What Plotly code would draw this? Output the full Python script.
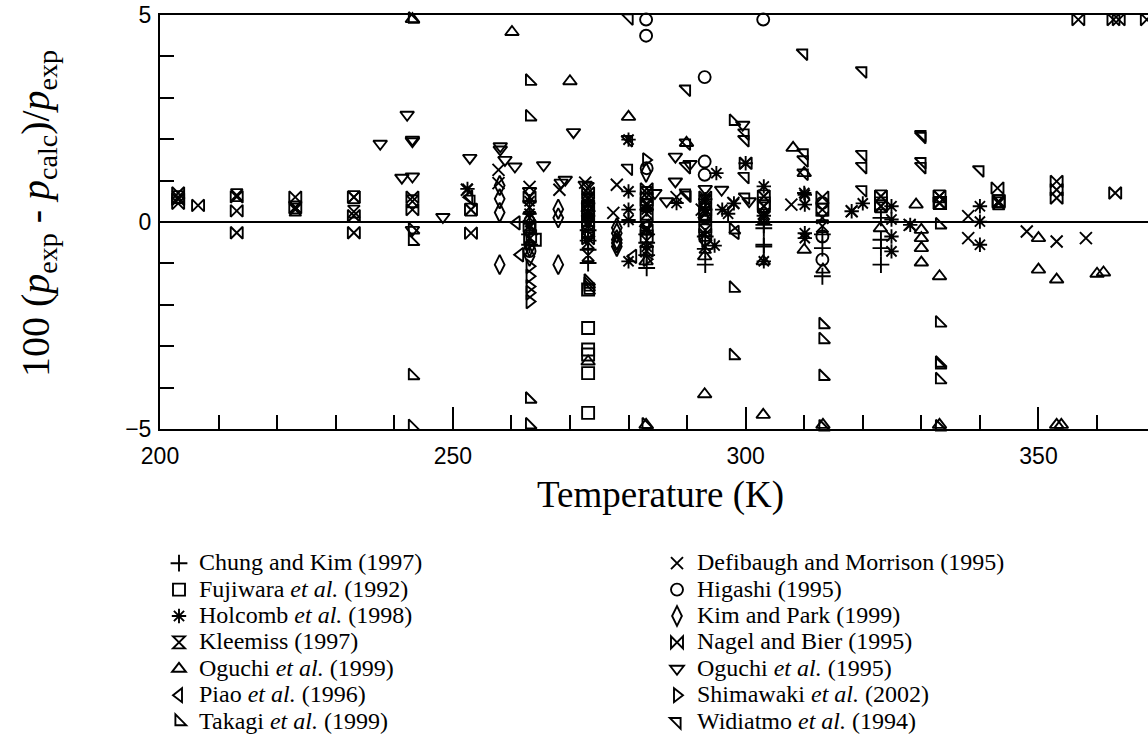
import plotly.graph_objects as go

# ---------------- data (temperature K, 100*(pexp-pcalc)/pexp) ----------------
chung_T = [263.1, 263.1, 273.1, 273.1, 273.1, 273.1, 283.1, 283.1, 283.1, 283.1, 293.1, 293.1, 293.1,
           303.1, 303.1, 303.1, 303.1, 313.1, 313.1, 313.1, 323.1, 323.1, 323.1, 323.1]
chung_d = [-0.3, -0.55, -0.45, -0.67, -0.99, -0.2, -0.5, -0.8, -1.11, -0.3, -0.35, -0.65, -1.03,
           -0.07, -0.59, -0.15, -0.55, -0.63, -1.31, -0.3, -0.43, -0.63, -1.03, 0.1]

fujiwara_T = [263.2, 264.0, 273.1, 273.1, 273.1, 273.1, 273.1, 273.1, 273.1, 273.1, 273.1,
              283.1, 283.1, 283.1, 293.1, 293.1, 303.1, 313.1, 323.1, 333.2, 343.2]
fujiwara_d = [-0.35, -0.43, -1.63, -2.56, -3.08, -3.2, -3.65, -4.61, 0.35, 0.05, -0.25,
              0.55, 0.15, -0.35, 0.3, -0.1, 0.45, 0.3, 0.45, 0.46, 0.5]

holcomb_T = [252.5, 263.1, 263.1, 273.1, 273.1, 280.0, 280.0, 280.0, 280.0, 280.0, 283.1, 283.1,
             288.2, 293.1, 294.7, 293.1, 295.0, 296.0, 297.0, 298.0, 300.0, 303.1, 303.1, 303.1,
             310.0, 310.1, 310.1, 310.1, 310.1, 318.1, 320.0, 324.9, 324.9, 324.9, 324.9, 328.1,
             340.0, 340.0, 340.0]
holcomb_d = [0.8, 0.5, 0.2, 0.45, 0.15, 1.99, 0.74, -0.95, 0.3, 0.05, 0.3, -0.6,
             0.46, 0.3, -0.57, 0.55, 1.18, 0.3, 0.2, 0.45, 1.42, 0.86, -0.95, 0.15,
             0.7, 0.66, 0.42, -0.27, -0.39, 0.26, 0.45, 0.38, 0.06, -0.35, -0.71, -0.07,
             0.38, 0.01, -0.55]

kleemiss_T = [203.1, 213.1, 223.1, 223.1, 233.1, 233.1, 243.1, 253.1, 263.1, 263.1, 263.1,
              273.1, 273.1, 273.1, 273.1, 273.1, 273.1, 283.1, 283.1, 283.1, 283.1, 283.1,
              293.1, 293.1, 293.1, 293.1, 303.1, 303.1, 303.1, 313.1, 313.1, 323.1, 323.1,
              333.1, 333.1, 343.2, 343.2]
kleemiss_d = [0.6, 0.65, 0.35, 0.3, 0.25, 0.6, 0.5, 0.3, 0.35, 0.1, -0.4,
              0.25, -0.1, 0.8, 0.55, -0.5, -0.8, 0.2, -0.15, 0.7, 0.4, -0.45,
              0.2, 0.5, -0.2, -0.6, 0.62, 0.38, 0.1, 0.3, -0.1, 0.62, 0.38,
              0.46, 0.62, 0.5, 0.45]

oguchi99_T = [243.1, 260.1, 270.0, 280.0, 289.9, 293.0, 293.0, 303.0, 303.0, 308.1, 310.0, 310.0,
              313.2, 313.2, 323.0, 329.1, 330.0, 330.0, 330.0, 330.0, 333.1, 333.1, 350.0, 350.0,
              353.1, 353.1, 353.9, 360.0, 361.1, 283.0, 273.1, 283.0]
oguchi99_d = [4.9, 4.59, 3.4, 2.54, 1.91, -4.16, -0.83, -4.66, -0.95, 1.79, 1.18, -0.67,
              -4.9, -1.15, -0.15, 0.42, -0.19, -0.39, -0.63, -0.98, -1.31, -4.9, -1.15, -0.39,
              -1.39, -4.9, -4.9, -1.25, -1.22, -4.9, -3.37, -0.95]

piao_T = [252.8, 260.9, 261.5, 280.8, 283.0, 293.0, 298.3, 263.5]
piao_d = [0.6, -0.02, -0.79, -0.83, -0.1, 0.1, -0.25, -0.1]

takagi_T = [243.1, 243.1, 243.1, 243.1, 243.1, 263.1, 263.1, 263.1, 263.1, 273.1, 273.1, 273.1,
            273.1, 283.0, 297.9, 297.9, 297.9, 297.9, 313.2, 313.2, 313.2, 313.2, 333.1, 333.1,
            333.1, 333.1, 333.1, 333.1]
takagi_d = [4.9, -0.19, -0.47, -3.71, -4.94, 3.4, 2.54, -4.28, -4.9, -1.43, -1.5, -1.57,
            -1.65, -4.9, 2.43, -0.19, -1.6, -3.23, -2.48, -2.84, -3.73, -4.95, -0.07, -2.44,
            -3.41, -3.45, -3.81, -4.95]

defibaugh_T = [252.4, 257.8, 257.8, 263.1, 268.2, 272.6, 277.4, 278.0, 283.1, 288.2, 292.5, 297.9,
               303.1, 307.8, 318.1, 328.0, 338.0, 338.0, 348.0, 353.1, 358.1, 273.1, 313.1]
defibaugh_d = [0.78, 1.26, 0.94, 0.85, 0.78, 0.95, 0.22, 0.9, 0.6, 0.6, 0.3, 0.46,
               0.2, 0.42, 0.26, -0.07, 0.14, -0.39, -0.23, -0.47, -0.39, 0.6, 0.1]

higashi_T = [283.0, 283.0, 293.0, 293.0, 293.0, 303.0, 313.1, 313.1, 313.1, 263.1, 273.1, 283.1, 293.1]
higashi_d = [4.89, 4.5, 3.5, 1.46, 1.14, 4.89, 0.46, -0.35, -0.91, -0.7, -0.05, 1.3, 0.1]

kim_T = [258.0, 258.0, 258.0, 258.0, 268.0, 268.0, 268.0, 263.1, 263.1, 263.1,
         278.0, 278.0, 278.0, 278.0, 278.0, 283.0, 273.1]
kim_d = [0.88, 0.56, 0.23, -1.03, 0.31, 0.1, -1.03, 0.05, -0.83, -0.6,
         -0.59, -0.43, -0.27, -0.14, -0.51, 1.2, 0.1]

nagel_T = [203.1, 203.1, 203.1, 206.5, 213.1, 213.1, 213.1, 223.1, 223.1, 233.1, 233.1, 233.1,
           243.1, 243.1, 253.1, 253.1, 263.1, 263.1, 273.1, 273.1, 273.1, 273.1, 283.1, 283.1,
           283.1, 283.1, 293.1, 293.1, 293.1, 300.0, 303.1, 303.1, 313.1, 323.1, 323.1, 333.1,
           333.1, 343.0, 343.2, 353.1, 353.1, 353.1, 363.1, 356.8, 362.8, 363.7, 368.5]
nagel_d = [0.7, 0.55, 0.45, 0.4, 0.61, 0.27, -0.26, 0.6, 0.35, 0.6, 0.15, -0.26,
           0.6, 0.3, 0.3, -0.27, 0.6, -0.1, 0.7, 0.4, 0.0, -0.4, 0.8, 0.45,
           -0.2, -0.7, 0.6, 0.2, -0.3, 1.42, 0.62, 0.38, 0.6, 0.62, 0.38, 0.62,
           0.46, 0.82, 0.5, 0.98, 0.78, 0.58, 0.7, 4.89, 4.89, 4.89, 4.89]

oguchi95_T = [237.6, 242.2, 243.1, 243.1, 241.3, 243.1, 243.1, 248.3, 252.9, 258.1, 258.1, 258.9,
              260.6, 265.5, 268.5, 269.2, 270.6, 272.6, 273.1, 263.1, 284.5, 286.5, 288.0, 288.0,
              290.5, 295.9, 300.6, 293.1, 299.5]
oguchi95_d = [1.89, 2.59, 1.99, 1.95, 1.07, 1.1, -0.19, 0.12, 1.55, 1.83, 1.75, 1.5,
              1.34, 1.37, 0.95, 1.02, 2.17, 0.9, 0.2, 0.75, 0.7, 0.5, 1.58, 0.98,
              1.4, 0.78, 0.5, 0.8, 2.35]

shimawaki_T = [263.1, 263.1, 263.1, 263.1, 263.1, 263.1, 283.0, 273.1, 283.1, 293.1, 263.1]
shimawaki_d = [-1.07, -1.31, -1.56, -1.71, -1.92, -0.5, 1.5, -0.35, -0.9, -0.45, -0.2]

widiatmo_T = [280.1, 289.9, 280.0, 280.0, 289.9, 289.9, 289.9, 299.9, 299.9, 299.9, 309.9, 310.0,
              310.0, 310.0, 320.0, 320.0, 320.0, 320.0, 330.1, 330.1, 330.1, 330.1, 340.0, 253.1,
              300.0, 290.0]
widiatmo_d = [4.93, 3.21, 1.99, 1.3, 1.34, 0.7, 1.91, 2.15, 1.99, 1.1, 4.08, 1.67,
              1.5, 1.18, 3.65, 1.63, 1.34, 0.78, 2.11, 2.07, 1.46, 1.34, 1.26, 0.55,
              0.6, 0.65]

# legend column 1 and column 2 (name, symbol, x, y)
col1 = [
    ("Chung and Kim (1997)", "cross-thin-open", chung_T, chung_d),
    ("Fujiwara <i>et al.</i> (1992)", "square-open", fujiwara_T, fujiwara_d),
    ("Holcomb <i>et al.</i> (1998)", "asterisk-open", holcomb_T, holcomb_d),
    ("Kleemiss (1997)", "hourglass-open", kleemiss_T, kleemiss_d),
    ("Oguchi <i>et al.</i> (1999)", "triangle-up-open", oguchi99_T, oguchi99_d),
    ("Piao <i>et al.</i> (1996)", "triangle-left-open", piao_T, piao_d),
    ("Takagi <i>et al.</i> (1999)", "triangle-sw-open", takagi_T, takagi_d),
]
col2 = [
    ("Defibaugh and Morrison (1995)", "x-thin-open", defibaugh_T, defibaugh_d),
    ("Higashi (1995)", "circle-open", higashi_T, higashi_d),
    ("Kim and Park (1999)", "diamond-tall-open", kim_T, kim_d),
    ("Nagel and Bier (1995)", "bowtie-open", nagel_T, nagel_d),
    ("Oguchi <i>et al.</i> (1995)", "triangle-down-open", oguchi95_T, oguchi95_d),
    ("Shimawaki <i>et al.</i> (2002)", "triangle-right-open", shimawaki_T, shimawaki_d),
    ("Widiatmo <i>et al.</i> (1994)", "triangle-ne-open", widiatmo_T, widiatmo_d),
]

fig = go.Figure()
for legend_id, col in (("legend", col1), ("legend2", col2)):
    for name, sym, xs, ys in col:
        size = 14 if sym == "diamond-tall-open" else 12
        fig.add_trace(go.Scatter(
            x=xs, y=ys, mode="markers",
            name='<span style="font-size:24px">' + name + '</span>',
            legend=legend_id, cliponaxis=False,
            marker=dict(symbol=sym, size=size, color="black",
                        line=dict(color="black", width=1.9)),
        ))

serif = "Liberation Serif"
sans = "Liberation Sans"

fig.update_layout(
    width=1148, height=736,
    margin=dict(l=160, r=0, t=15, b=307, autoexpand=False),
    plot_bgcolor="white", paper_bgcolor="white",
    showlegend=True,
    legend=dict(xref="container", yref="container", x=159 / 1148, y=1 - 545 / 736,
                xanchor="left", yanchor="top", font=dict(family=serif, size=18, color="black"),
                bgcolor="rgba(0,0,0,0)", borderwidth=0, tracegroupgap=0),
    legend2=dict(xref="container", yref="container", x=657 / 1148, y=1 - 545 / 736,
                 xanchor="left", yanchor="top", font=dict(family=serif, size=18, color="black"),
                 bgcolor="rgba(0,0,0,0)", borderwidth=0, tracegroupgap=0),
    xaxis=dict(range=[200, 368.7], tick0=200, dtick=50, ticks="inside", ticklen=22, tickwidth=2,
               tickcolor="black", showline=True, linecolor="black", linewidth=2, mirror=True,
               showgrid=False, zeroline=False, ticklabelstandoff=5,
               tickfont=dict(family=sans, size=23, color="black"),
               minor=dict(dtick=10, ticks="inside", ticklen=14, tickwidth=2, tickcolor="black",
                          showgrid=False)),
    yaxis=dict(range=[-5, 5], tick0=0, dtick=5, ticks="inside", ticklen=22, tickwidth=2,
               tickcolor="black", showline=True, linecolor="black", linewidth=2,
               showgrid=False, zeroline=True, zerolinecolor="black", zerolinewidth=2,
               ticklabelstandoff=2,
               tickfont=dict(family=sans, size=23, color="black"),
               minor=dict(dtick=1, ticks="inside", ticklen=14, tickwidth=2, tickcolor="black",
                          showgrid=False)),
    annotations=[
        dict(text="Temperature (K)", xref="paper", yref="paper", x=(660 - 160) / 988,
             y=(429 - 495) / 414, showarrow=False, xanchor="center", yanchor="middle",
             font=dict(family=serif, size=37, color="black")),
        dict(text="100 (<i>p</i><sub>exp</sub> - <i>p</i><sub>calc</sub>)/<i>p</i><sub>exp</sub>",
             xref="paper", yref="paper", x=(38 - 160) / 988, y=(429 - 214) / 414,
             showarrow=False, textangle=-90, xanchor="center", yanchor="middle",
             font=dict(family=serif, size=40, color="black")),
    ],
)

fig.write_html("out.html")
